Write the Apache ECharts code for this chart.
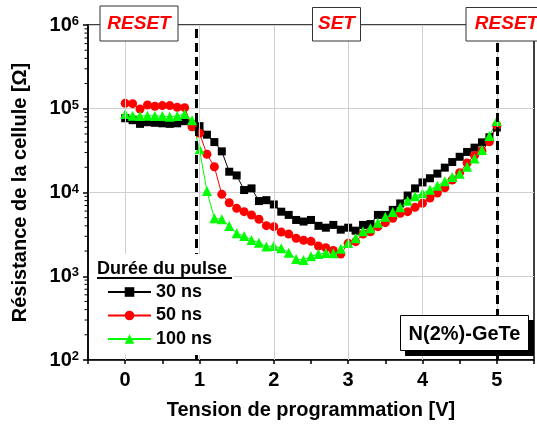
<!DOCTYPE html>
<html>
<head>
<meta charset="utf-8">
<script src="https://cdn.jsdelivr.net/npm/echarts@6/dist/echarts.min.js"></script>
<style>
  html, body { margin: 0; padding: 0; background: #fff; }
  #main { width: 537px; height: 425px; }
</style>
</head>
<body>
<div id="main"></div>
<script>
// tension de programmation (V)
const volts = [0, 0.1, 0.2, 0.3, 0.4, 0.5, 0.6, 0.7, 0.8, 0.9,
  1.0, 1.1, 1.2, 1.3, 1.4, 1.5, 1.6, 1.7, 1.8, 1.9,
  2.0, 2.1, 2.2, 2.3, 2.4, 2.5, 2.6, 2.7, 2.8, 2.9,
  3.0, 3.1, 3.2, 3.3, 3.4, 3.5, 3.6, 3.7, 3.8, 3.9,
  4.0, 4.1, 4.2, 4.3, 4.4, 4.5, 4.6, 4.7, 4.8, 4.9, 5.0];

// résistance (ohm) pour chaque durée de pulse
const r30 = [7.7e4, 7.3e4, 6.6e4, 6.9e4, 6.8e4, 6.7e4, 6.6e4, 6.7e4, 7.1e4, 6.5e4,
  6.2e4, 4.9e4, 4.0e4, 3.1e4, 1.77e4, 1.6e4, 1.07e4, 1.12e4, 7.9e3, 8.1e3,
  7.2e3, 5.9e3, 5.4e3, 4.7e3, 4.5e3, 4.7e3, 4.0e3, 3.8e3, 4.1e3, 3.6e3,
  3.8e3, 3.5e3, 4.1e3, 4.2e3, 5.4e3, 5.4e3, 6.2e3, 7.4e3, 9.2e3, 1.12e4,
  1.32e4, 1.48e4, 1.68e4, 1.98e4, 2.31e4, 2.67e4, 3.05e4, 3.43e4, 3.97e4, 4.56e4, 5.97e4];
const r50 = [1.16e5, 1.15e5, 9.9e4, 1.11e5, 1.07e5, 1.09e5, 1.09e5, 1.04e5, 1.03e5, 6.1e4,
  5.1e4, 2.86e4, 2.03e4, 9.5e3, 7.55e3, 6.47e3, 5.9e3, 5.39e3, 4.79e3, 4.02e3,
  3.91e3, 3.37e3, 3.19e3, 2.84e3, 2.69e3, 2.61e3, 2.30e3, 2.19e3, 2.03e3, 1.84e3,
  2.47e3, 2.59e3, 3.19e3, 3.40e3, 3.91e3, 4.36e3, 4.92e3, 5.65e3, 5.90e3, 6.65e3,
  7.43e3, 8.6e3, 9.86e3, 1.14e4, 1.41e4, 1.72e4, 2.25e4, 2.77e4, 3.15e4, 4.04e4, 6.3e4];
const r100 = [8.66e4, 8.26e4, 8.19e4, 8.26e4, 8.19e4, 8.19e4, 8.04e4, 8.19e4, 8.66e4, 7.28e4,
  3.28e4, 1.04e4, 4.92e3, 4.79e3, 3.98e3, 3.26e3, 3.03e3, 2.71e3, 2.52e3, 2.26e3,
  2.30e3, 2.16e3, 1.91e3, 1.61e3, 1.56e3, 1.73e3, 1.84e3, 1.90e3, 1.88e3, 2.13e3,
  2.49e3, 2.84e3, 3.44e3, 3.74e3, 4.36e3, 5.14e3, 5.85e3, 6.65e3, 7.98e3, 9.01e3,
  9.78e3, 1.08e4, 1.20e4, 1.36e4, 1.53e4, 1.68e4, 2.03e4, 2.54e4, 3.22e4, 4.73e4, 7.14e4];

const seriesNames = ['30 ns', '50 ns', '100 ns'];
const xGridValues = [0, 1, 2, 3, 4, 5];
const phaseLines = [0.95, 5];
// graduations secondaires de l'axe log
const yMinorTicks = [200, 300, 400, 500, 600, 700, 800, 900,
  2000, 3000, 4000, 5000, 6000, 7000, 8000, 9000,
  2e4, 3e4, 4e4, 5e4, 6e4, 7e4, 8e4, 9e4,
  2e5, 3e5, 4e5, 5e5, 6e5, 7e5, 8e5, 9e5];

const FONT = '"Liberation Sans", Arial, sans-serif';

function pairs(ys) {
  return volts.map(function (v, i) { return [v, ys[i]]; });
}

var chart = echarts.init(document.getElementById('main'), null, { renderer: 'canvas' });

var gridMarks = xGridValues.map(function (v) {
  return { xAxis: v, lineStyle: { color: '#cfcfcf', width: 1, type: 'solid' } };
});
var phaseMarks = phaseLines.map(function (v) {
  return { xAxis: v, lineStyle: { color: '#000', width: 3, type: [9, 5] } };
});

function lineSeries(name, ys, color, symbol, size) {
  return {
    name: name,
    type: 'line',
    data: pairs(ys),
    symbol: symbol,
    symbolSize: size,
    showSymbol: true,
    lineStyle: { color: color, width: 1 },
    itemStyle: { color: color },
    z: 3
  };
}

var option = {
  animation: false,
  grid: {
    left: 88, top: 25, right: -3.5, bottom: 65,
    show: true, borderColor: '#000', borderWidth: 1.5, backgroundColor: 'transparent'
  },
  xAxis: {
    type: 'value',
    min: -0.5, max: 5.5, interval: 0.5,
    name: 'Tension de programmation [V]',
    nameLocation: 'middle',
    nameGap: 40,
    nameTextStyle: { fontFamily: FONT, fontWeight: 'bold', fontSize: 20, color: '#000' },
    axisLine: { onZero: false, lineStyle: { color: '#000', width: 1.5 } },
    axisTick: { show: true, length: 4, lineStyle: { color: '#000', width: 1.5 } },
    axisLabel: {
      margin: 10,
      fontFamily: FONT, fontWeight: 'bold', fontSize: 20, color: '#000',
      formatter: function (v) { return Math.abs(v - Math.round(v)) < 1e-6 ? String(Math.round(v)) : ''; }
    },
    splitLine: { show: false }
  },
  yAxis: {
    type: 'log',
    logBase: 10,
    min: 100, max: 1e6,
    name: 'Résistance de la cellule [Ω]',
    nameLocation: 'middle',
    nameGap: 58,
    nameTextStyle: { fontFamily: FONT, fontWeight: 'bold', fontSize: 20, color: '#000' },
    axisLine: { show: true, onZero: false, lineStyle: { color: '#000', width: 1.5 } },
    axisTick: { show: true, length: 5, lineStyle: { color: '#000', width: 1.5 } },
    minorTick: { show: false },
    axisLabel: {
      margin: 9,
      formatter: function (v) { return '{b|10}{s|' + Math.round(Math.log10(v)) + '}'; },
      rich: {
        b: { fontFamily: FONT, fontWeight: 'bold', fontSize: 20, color: '#000', lineHeight: 20 },
        s: { fontFamily: FONT, fontWeight: 'bold', fontSize: 13, color: '#000', verticalAlign: 'top', lineHeight: 13, padding: [0, 0, 6, 0] }
      }
    },
    splitLine: { show: true, lineStyle: { color: '#cfcfcf', width: 1 } }
  },
  legend: {
    data: seriesNames,
    orient: 'vertical',
    left: 107, top: 283,
    padding: 0,
    itemWidth: 43, itemHeight: 12, itemGap: 5.5,
    z: 20,
    textStyle: { fontFamily: FONT, fontWeight: 'bold', fontSize: 18, color: '#000', lineHeight: 18 }
  },
  series: [
    {
      name: 'guides',
      type: 'line',
      data: [],
      z: 1,
      silent: true,
      markLine: {
        silent: true,
        symbol: ['none', 'none'],
        label: { show: false },
        animation: false,
        data: gridMarks.concat(phaseMarks)
      }
    },
    {
      name: 'minorTicks',
      type: 'custom',
      silent: true,
      clip: false,
      z: 4,
      data: yMinorTicks.map(function (v) { return [-0.5, v]; }),
      renderItem: function (params, api) {
        var p = api.coord([api.value(0), api.value(1)]);
        return {
          type: 'line',
          shape: { x1: p[0] - 3.5, y1: p[1], x2: p[0], y2: p[1] },
          style: { stroke: '#000', lineWidth: 1 }
        };
      }
    },
    lineSeries(seriesNames[0], r30, '#000000', 'rect', 8),
    lineSeries(seriesNames[1], r50, '#ff0000', 'circle', 9),
    lineSeries(seriesNames[2], r100, '#00ff00', 'triangle', 10)
  ],
  graphic: [
    // fond blanc de la légende
    { type: 'rect', z: 10, shape: { x: 89, y: 254, width: 145, height: 101 }, style: { fill: '#fff' } },
    // titre de légende souligné
    { type: 'text', z: 100, style: { x: 97, y: 269, text: 'Durée du pulse', font: 'bold 18px ' + FONT, fill: '#000', textVerticalAlign: 'middle' } },
    { type: 'rect', z: 100, shape: { x: 97, y: 277, width: 135, height: 2 }, style: { fill: '#000' } },
    // étiquettes RESET / SET
    { type: 'rect', z: 100, shape: { x: 100, y: 6, width: 78, height: 35 }, style: { fill: '#fff', stroke: '#333', lineWidth: 1 } },
    { type: 'text', z: 101, style: { x: 139, y: 24, text: 'RESET', font: 'italic bold 19px ' + FONT, fill: '#ff0000', textAlign: 'center', textVerticalAlign: 'middle' } },
    { type: 'rect', z: 100, shape: { x: 312.5, y: 7.5, width: 48, height: 33.5 }, style: { fill: '#fff', stroke: '#333', lineWidth: 1 } },
    { type: 'text', z: 101, style: { x: 336.5, y: 24, text: 'SET', font: 'italic bold 19px ' + FONT, fill: '#ff0000', textAlign: 'center', textVerticalAlign: 'middle' } },
    { type: 'rect', z: 100, shape: { x: 466, y: 7.5, width: 81, height: 33.5 }, style: { fill: '#fff', stroke: '#333', lineWidth: 1 } },
    { type: 'text', z: 101, style: { x: 506.5, y: 24, text: 'RESET', font: 'italic bold 19px ' + FONT, fill: '#ff0000', textAlign: 'center', textVerticalAlign: 'middle' } },
    // matériau
    { type: 'rect', z: 100, shape: { x: 405, y: 320, width: 129, height: 36 }, style: { fill: '#000' } },
    { type: 'rect', z: 101, shape: { x: 400.5, y: 315.5, width: 128, height: 35 }, style: { fill: '#fff', stroke: '#000', lineWidth: 1 } },
    { type: 'text', z: 102, style: { x: 464.5, y: 334, text: 'N(2%)-GeTe', font: 'bold 20px ' + FONT, fill: '#000', textAlign: 'center', textVerticalAlign: 'middle' } }
  ]
};

chart.setOption(option);
</script>
</body>
</html>
